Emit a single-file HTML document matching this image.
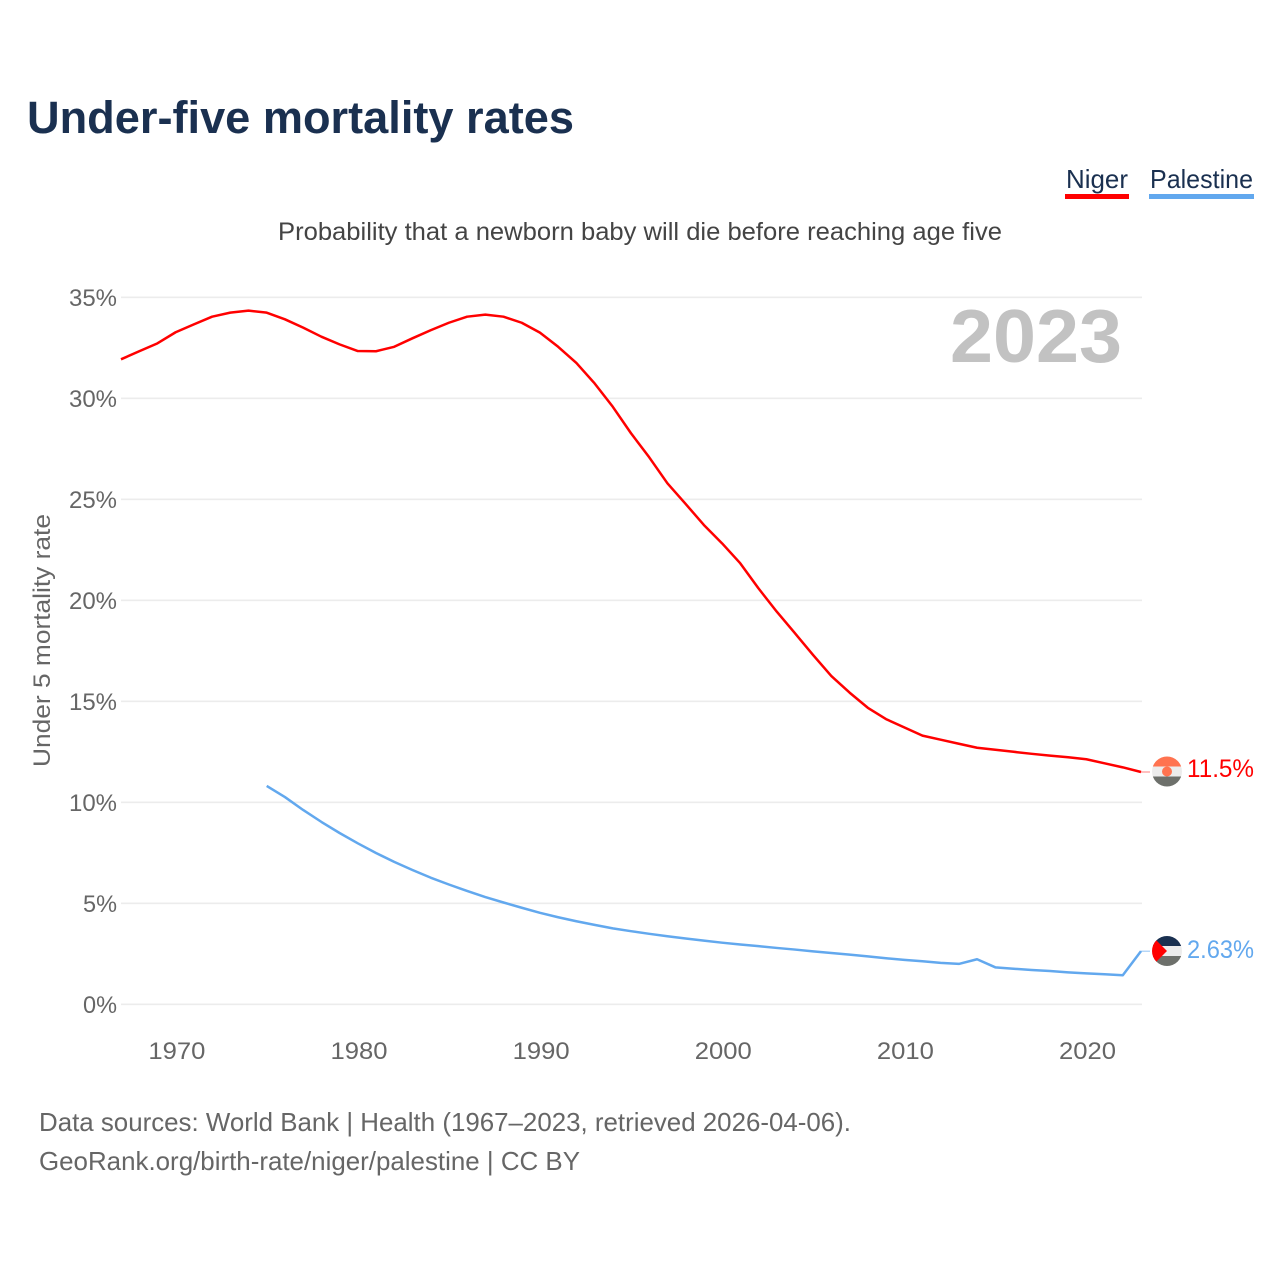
<!DOCTYPE html>
<html lang="en">
<head>
<meta charset="utf-8">
<title>Under-five mortality rates</title>
<style>
  html, body { margin: 0; padding: 0; background: #fff; }
  svg { display: block; font-family: "Liberation Sans", sans-serif; }
</style>
</head>
<body>
<svg id="chart" xmlns="http://www.w3.org/2000/svg" width="1280" height="1280" viewBox="0 0 1280 1280">
  <rect x="0" y="0" width="1280" height="1280" fill="#ffffff"/>
  <text x="27" y="133" font-size="45" font-weight="700" fill="#1a3050" textLength="547" lengthAdjust="spacingAndGlyphs">Under-five mortality rates</text>

  <g>
    <text x="1066" y="188" font-size="26" fill="#1a3050" textLength="62" lengthAdjust="spacingAndGlyphs">Niger</text>
    <rect x="1065" y="194" width="64" height="5" fill="#ff0000"/>
  </g>
  <g>
    <text x="1150" y="188" font-size="26" fill="#1a3050" textLength="103" lengthAdjust="spacingAndGlyphs">Palestine</text>
    <rect x="1149" y="194" width="105" height="5" fill="#62a8ee"/>
  </g>

  <text x="278" y="240" font-size="25" fill="#444444" textLength="724" lengthAdjust="spacingAndGlyphs">Probability that a newborn baby will die before reaching age five</text>

  <g id="grid"></g>
  <g id="y-ticks"></g>
  <g id="x-ticks"></g>

  <text transform="translate(50,640.5) rotate(-90)" text-anchor="middle" font-size="24" fill="#666666" textLength="253" lengthAdjust="spacingAndGlyphs">Under 5 mortality rate</text>

  <text x="950" y="362" font-size="75" font-weight="700" fill="#c2c2c2" textLength="172" lengthAdjust="spacingAndGlyphs">2023</text>

  <g id="series"></g>

  <defs>
    <clipPath id="flag-clip-niger"><circle cx="1167" cy="771.5" r="15"/></clipPath>
    <clipPath id="flag-clip-palestine"><circle cx="1167" cy="951" r="15"/></clipPath>
  </defs>
  <g clip-path="url(#flag-clip-niger)">
    <rect x="1152" y="756.5" width="30" height="10" fill="#ff7350"/>
    <rect x="1152" y="766.5" width="30" height="10" fill="#ececec"/>
    <rect x="1152" y="776.5" width="30" height="10" fill="#6d706b"/>
    <circle cx="1167" cy="771.5" r="5" fill="#ff7350"/>
  </g>
  <g clip-path="url(#flag-clip-palestine)">
    <rect x="1152" y="936" width="30" height="10" fill="#1a3050"/>
    <rect x="1152" y="946" width="30" height="10" fill="#ececec"/>
    <rect x="1152" y="956" width="30" height="10" fill="#6d706b"/>
    <polygon points="1152,936 1167,951 1152,966" fill="#ff0000"/>
  </g>
  <text x="1187" y="777" font-size="25" fill="#ff0000" textLength="67" lengthAdjust="spacingAndGlyphs">11.5%</text>
  <text x="1187" y="958" font-size="25" fill="#62a8ee" textLength="67" lengthAdjust="spacingAndGlyphs">2.63%</text>

  <text x="39" y="1131" font-size="26" fill="#666666" textLength="812" lengthAdjust="spacingAndGlyphs">Data sources: World Bank | Health (1967–2023, retrieved 2026-04-06).</text>
  <text x="39" y="1170" font-size="26" fill="#666666" textLength="541" lengthAdjust="spacingAndGlyphs">GeoRank.org/birth-rate/niger/palestine | CC BY</text>
</svg>
<script>
const startYear = 1967;
const endYear = 2023;
const xTickYears = [1970, 1980, 1990, 2000, 2010, 2020];
const yTickValues = [0, 5, 10, 15, 20, 25, 30, 35];
const yTickLabels = ["0%", "5%", "10%", "15%", "20%", "25%", "30%", "35%"];
const nigerValues = [31.93, 32.33, 32.72, 33.27, 33.66, 34.04, 34.24, 34.34, 34.24, 33.91,
  33.50, 33.05, 32.67, 32.34, 32.33, 32.55, 32.97, 33.37, 33.74, 34.04,
  34.14, 34.04, 33.74, 33.25, 32.55, 31.75, 30.74, 29.58, 28.27, 27.08,
  25.79, 24.77, 23.73, 22.82, 21.83, 20.59, 19.44, 18.37, 17.29, 16.25,
  15.43, 14.68, 14.12, 13.71, 13.30, 13.10, 12.90, 12.70, 12.60, 12.50,
  12.40, 12.31, 12.23, 12.13, 11.93, 11.73, 11.50];
const palestineStartYear = 1975;
const palestineValues = [10.81, 10.26, 9.62, 9.03, 8.48, 7.97, 7.49, 7.05, 6.65, 6.27,
  5.93, 5.61, 5.31, 5.04, 4.78, 4.53, 4.31, 4.11, 3.93, 3.76,
  3.62, 3.49, 3.37, 3.26, 3.15, 3.05, 2.96, 2.88, 2.79, 2.71,
  2.62, 2.54, 2.46, 2.37, 2.28, 2.20, 2.13, 2.05, 2.00, 2.23,
  1.83, 1.76, 1.70, 1.65, 1.58, 1.53, 1.49, 1.44, 2.63];

const NS = "http://www.w3.org/2000/svg";
const plotLeft = 121, plotRight = 1141, zeroY = 1004.3, pxPerUnit = 20.2;
function xScale(year) { return plotLeft + (year - startYear) * (plotRight - plotLeft) / (endYear - startYear); }
function yScale(value) { return zeroY - value * pxPerUnit; }

const grid = document.getElementById("grid");
const yTicks = document.getElementById("y-ticks");
const xTicks = document.getElementById("x-ticks");
const series = document.getElementById("series");

yTickValues.forEach(function (v, i) {
  const line = document.createElementNS(NS, "line");
  
  
  line.setAttribute("x1", plotLeft);
  line.setAttribute("x2", plotRight + 1);
  line.setAttribute("y1", yScale(v));
  line.setAttribute("y2", yScale(v));
  line.setAttribute("stroke", "#ececec");
  line.setAttribute("stroke-width", "1.6");
  grid.appendChild(line);

  const label = document.createElementNS(NS, "text");
  
  
  label.setAttribute("x", 117);
  label.setAttribute("y", yScale(v) + 8.5);
  label.setAttribute("text-anchor", "end");
  label.setAttribute("font-size", "24");
  label.setAttribute("fill", "#666666");
  label.setAttribute("textLength", yTickLabels[i].length === 2 ? 34 : 48);
  label.setAttribute("lengthAdjust", "spacingAndGlyphs");
  label.textContent = yTickLabels[i];
  yTicks.appendChild(label);
});

xTickYears.forEach(function (year) {
  const label = document.createElementNS(NS, "text");
  
  
  label.setAttribute("x", xScale(year) + 1.2);
  label.setAttribute("y", 1059);
  label.setAttribute("text-anchor", "middle");
  label.setAttribute("font-size", "24");
  label.setAttribute("fill", "#666666");
  label.setAttribute("textLength", 57);
  label.setAttribute("lengthAdjust", "spacingAndGlyphs");
  label.textContent = String(year);
  xTicks.appendChild(label);
});

function linePoints(firstYear, values) {
  return values.map(function (v, i) {
    return xScale(firstYear + i).toFixed(2) + "," + yScale(v).toFixed(2);
  }).join(" ");
}

const palestineLine = document.createElementNS(NS, "polyline");


palestineLine.setAttribute("points", linePoints(palestineStartYear, palestineValues));
palestineLine.setAttribute("fill", "none");
palestineLine.setAttribute("stroke", "#62a8ee");
palestineLine.setAttribute("stroke-width", "2.5");
palestineLine.setAttribute("stroke-linejoin", "round");
series.appendChild(palestineLine);

const nigerLine = document.createElementNS(NS, "polyline");


nigerLine.setAttribute("points", linePoints(startYear, nigerValues));
nigerLine.setAttribute("fill", "none");
nigerLine.setAttribute("stroke", "#ff0000");
nigerLine.setAttribute("stroke-width", "2.5");
nigerLine.setAttribute("stroke-linejoin", "round");
series.appendChild(nigerLine);

const nigerConnector = document.createElementNS(NS, "line");


nigerConnector.setAttribute("x1", xScale(endYear));
nigerConnector.setAttribute("x2", xScale(endYear) + 9);
nigerConnector.setAttribute("y1", yScale(nigerValues[nigerValues.length - 1]));
nigerConnector.setAttribute("y2", yScale(nigerValues[nigerValues.length - 1]));
nigerConnector.setAttribute("stroke", "#ff0000");
nigerConnector.setAttribute("stroke-opacity", "0.5");
nigerConnector.setAttribute("stroke-width", "1");
series.appendChild(nigerConnector);

const palestineConnector = document.createElementNS(NS, "line");


palestineConnector.setAttribute("x1", xScale(endYear));
palestineConnector.setAttribute("x2", xScale(endYear) + 9);
palestineConnector.setAttribute("y1", yScale(palestineValues[palestineValues.length - 1]));
palestineConnector.setAttribute("y2", yScale(palestineValues[palestineValues.length - 1]));
palestineConnector.setAttribute("stroke", "#62a8ee");
palestineConnector.setAttribute("stroke-opacity", "0.7");
palestineConnector.setAttribute("stroke-width", "1");
series.appendChild(palestineConnector);
</script>
</body>
</html>
